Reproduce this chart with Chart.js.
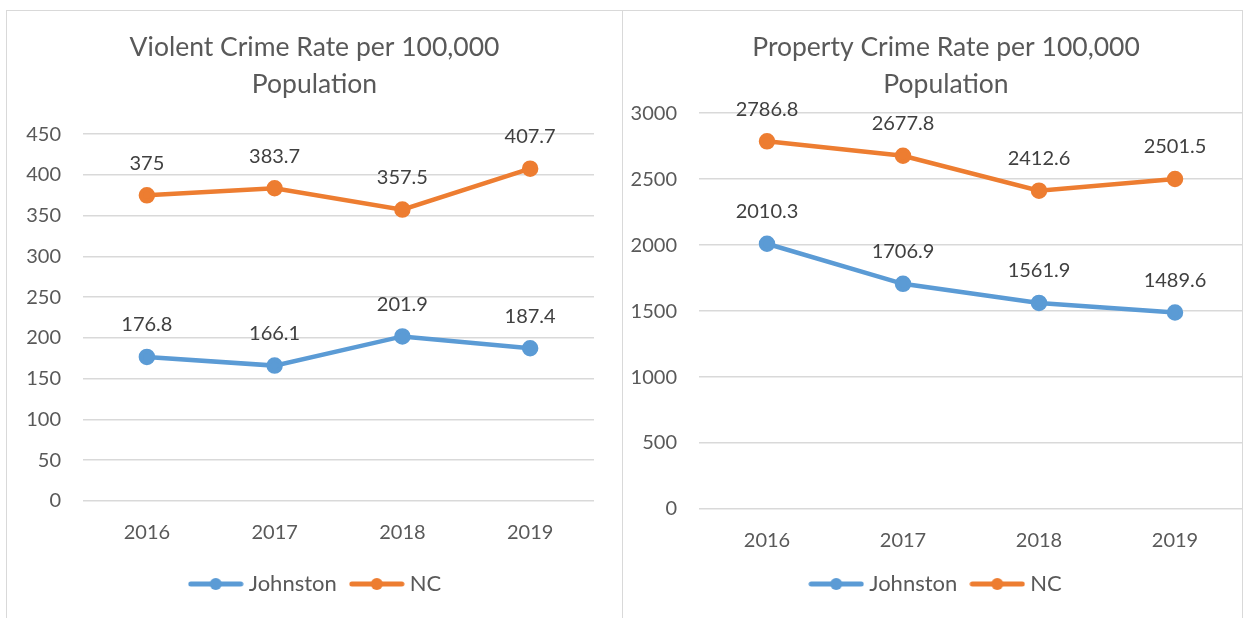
<!DOCTYPE html>
<html>
<head>
<meta charset="utf-8">
<script src="https://cdn.jsdelivr.net/npm/chart.js@4.4.0/dist/chart.umd.min.js"></script>
<style>
  body { margin: 0; background: #fff; width: 1244px; height: 618px; overflow: hidden; position: relative; }
  .frame { position: absolute; border: 1px solid #d9d9d9; border-bottom: none; }
  canvas { position: absolute; }
</style>
</head>
<body>
<div class="frame" style="left:6px; top:10px; width:615px; height:620px;"></div>
<div class="frame" style="left:621px; top:10px; width:621px; height:620px; border-left:none;"></div>
<canvas id="violent" width="614" height="607" style="left:7px; top:11px;"></canvas>
<canvas id="property" width="646" height="607" style="left:623px; top:11px;"></canvas>
<div style="position:absolute; left:1242px; top:10px; width:1px; height:608px; background:#d9d9d9;"></div>
<script>
const years = ['2016', '2017', '2018', '2019'];
const violentJohnston = [176.8, 166.1, 201.9, 187.4];
const violentNC = [375, 383.7, 357.5, 407.7];
const propertyJohnston = [2010.3, 1706.9, 1561.9, 1489.6];
const propertyNC = [2786.8, 2677.8, 2412.6, 2501.5];

const blue = '#5B9BD5';
const orange = '#ED7D31';
const textColor = '#595959';
const fontFamily = 'Lato, "Open Sans", sans-serif';

// little line-with-dot picture for the legend
function legendMark(color) {
  const c = document.createElement('canvas');
  c.width = 56; c.height = 14;
  const g = c.getContext('2d');
  g.strokeStyle = color;
  g.lineWidth = 5;
  g.lineCap = 'round';
  g.beginPath(); g.moveTo(3, 7); g.lineTo(53, 7); g.stroke();
  g.fillStyle = color;
  g.beginPath(); g.arc(28, 7, 6, 0, Math.PI * 2); g.fill();
  return c;
}

// value labels above each point
const valueLabels = {
  id: 'valueLabels',
  afterDatasetsDraw(chart) {
    const ctx = chart.ctx;
    ctx.save();
    ctx.font = '20px ' + fontFamily;
    ctx.fillStyle = '#404040';
    ctx.textAlign = 'center';
    ctx.textBaseline = 'middle';
    chart.data.datasets.forEach((ds, i) => {
      chart.getDatasetMeta(i).data.forEach((pt, j) => {
        ctx.fillText(String(ds.data[j]), pt.x, pt.y - 32);
      });
    });
    ctx.restore();
  }
};

// nudge title and legend sideways (excel centres them on the whole chart box)
const nudge = {
  id: 'nudge',
  afterLayout(chart, args, o) {
    if (chart.titleBlock) { chart.titleBlock.left += o.title; chart.titleBlock.right += o.title; }
    if (chart.legend) { chart.legend.left += o.legend; chart.legend.right += o.legend; }
  }
};

function makeChart(id, title, johnston, nc, max, step, opts) {
  const marks = [legendMark(blue), legendMark(orange)];
  return new Chart(document.getElementById(id), {
    type: 'line',
    data: {
      labels: years,
      datasets: [
        { label: 'Johnston', data: johnston, borderColor: blue, backgroundColor: blue,
          borderWidth: 4.5, pointRadius: 6, pointHoverRadius: 6, tension: 0 },
        { label: 'NC', data: nc, borderColor: orange, backgroundColor: orange,
          borderWidth: 4.5, pointRadius: 6, pointHoverRadius: 6, tension: 0 }
      ]
    },
    options: {
      responsive: false,
      animation: false,
      layout: { padding: { left: 0, right: opts.right, top: 0, bottom: 13 } },
      scales: {
        x: {
          offset: true,
          grid: { display: false },
          border: { display: false },
          ticks: { color: textColor, font: { family: fontFamily, size: 20 }, padding: 12 },
          afterFit: (s) => { s.height = opts.xHeight; }
        },
        y: {
          min: 0, max: max,
          ticks: { stepSize: step, color: textColor, font: { family: fontFamily, size: 20 }, padding: 22,
                   callback: (v) => String(v) },
          grid: { color: '#d9d9d9', lineWidth: 1.5, drawTicks: false },
          border: { display: false },
          afterFit: (s) => { s.width = 76; }
        }
      },
      plugins: {
        title: {
          display: true,
          text: title,
          color: textColor,
          font: { family: fontFamily, size: 26.5, weight: 'normal', lineHeight: 1.4 },
          padding: { top: 18, bottom: opts.titleBottom }
        },
        legend: {
          position: 'bottom',
          labels: {
            color: textColor,
            font: { family: fontFamily, size: 22 },
            usePointStyle: true,
            pointStyleWidth: 44,
            padding: 18,
            generateLabels: (chart) => chart.data.datasets.map((ds, i) => ({
              text: ds.label, pointStyle: marks[i], fontColor: textColor,
              strokeStyle: ds.borderColor, fillStyle: ds.borderColor, lineWidth: 0, datasetIndex: i
            }))
          }
        },
        nudge: { title: opts.titleShift, legend: opts.legendShift },
        tooltip: { enabled: false }
      }
    },
    plugins: [valueLabels, nudge]
  });
}

makeChart('violent', ['Violent Crime Rate per 100,000', 'Population'],
  violentJohnston, violentNC, 450, 50,
  { right: 27, xHeight: 54, titleBottom: 31, titleShift: 14, legendShift: 17 });
makeChart('property', ['Property Crime Rate per 100,000', 'Population'],
  propertyJohnston, propertyNC, 3000, 500,
  { right: 26, xHeight: 46, titleBottom: 10, titleShift: 13, legendShift: 5 });
</script>
</body>
</html>
